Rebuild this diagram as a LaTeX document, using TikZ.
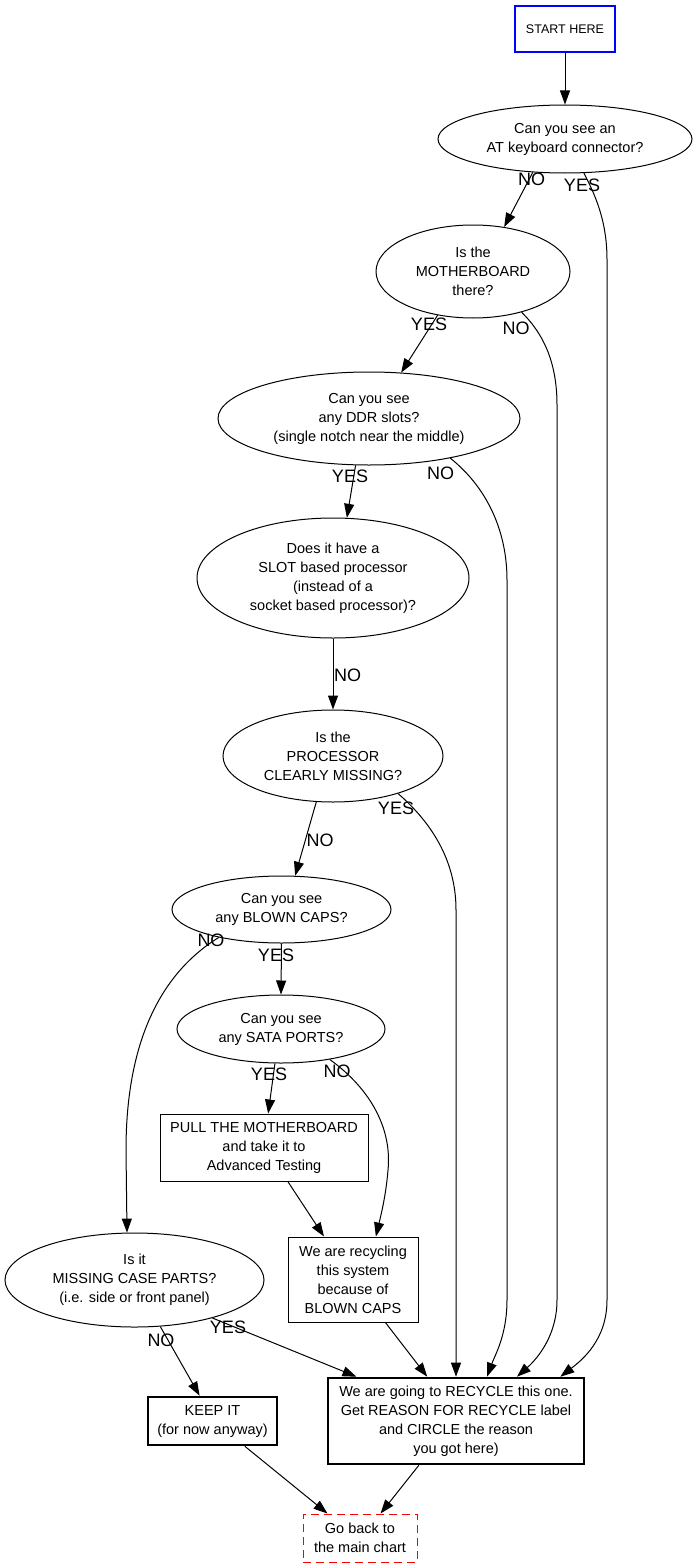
\documentclass[tikz,border=0pt]{standalone}
\usepackage{fontspec}
\setmainfont{Liberation Sans}
\usetikzlibrary{arrows.meta,shapes.geometric}
\begin{document}
\begin{tikzpicture}[x=1pt,y=-1pt,
  every node/.style={font=\fontsize{14.5}{19}\selectfont, align=center, inner sep=0pt},
  ell/.style={draw, ellipse, line width=1pt},
  box/.style={draw, rectangle, line width=1pt},
  thickbox/.style={draw, rectangle, line width=2.6pt},
  lab/.style={font=\fontsize{18}{18}\selectfont},
  arr/.style={-{Triangle[length=14pt,width=10pt]}, line width=1pt},
]
\useasboundingbox (0,0) rectangle (697,1568);

\node[box, draw=blue, line width=2.2pt, minimum width=100, minimum height=46, font=\fontsize{12.5}{15}\selectfont] (start) at (565,29) {START HERE};
\node[ell, minimum width=254, minimum height=68] (A) at (565,139) {Can you see an\\AT keyboard connector?};
\node[ell, minimum width=194, minimum height=93] (B) at (473,271.5) {Is the\\MOTHERBOARD\\there?};
\node[ell, minimum width=302, minimum height=93] (C) at (369,418.5) {Can you see\\any DDR slots?\\(single notch near the middle)};
\node[ell, minimum width=272, minimum height=120] (D) at (333,578) {Does it have a\\SLOT based processor\\(instead of a\\socket based processor)?};
\node[ell, minimum width=220, minimum height=92] (E) at (333,756) {Is the\\PROCESSOR\\CLEARLY MISSING?};
\node[ell, minimum width=219, minimum height=67] (F) at (281.5,909.5) {Can you see\\any BLOWN CAPS?};
\node[ell, minimum width=208, minimum height=68] (G) at (281,1029) {Can you see\\any SATA PORTS?};
\node[box, minimum width=208, minimum height=67] (H) at (264,1147.5) {PULL THE MOTHERBOARD\\and take it to\\Advanced Testing};
\node[box, minimum width=130, minimum height=85] (I) at (353,1279.5) {We are recycling\\this system\\because of\\BLOWN CAPS};
\node[ell, minimum width=259, minimum height=94] (J) at (134.5,1280) {Is it\\MISSING CASE PARTS?\\(i.e. side or front panel)};
\node[thickbox, minimum width=129, minimum height=48] (K) at (212.5,1421) {KEEP IT\\(for now anyway)};
\node[thickbox, minimum width=256, minimum height=86] (L) at (456,1421) {We are going to RECYCLE this one.\\Get REASON FOR RECYCLE label\\and CIRCLE the reason\\you got here)};
\node[box, draw=red, dash pattern=on 8pt off 5pt, minimum width=114, minimum height=48] (M) at (360,1538) {Go back to\\the main chart};

% edges
\draw[arr] (start.south) -- (A.north);
\draw[arr] (A.-134) -- (B.55);
\draw[arr] (A.-61) .. controls (598,200) and (607,225) .. (607,260) -- (607,1300) .. controls (607,1340) and (582,1360) .. (L.23);
\draw[arr] (B.-129) -- (C.55);
\draw[arr] (B.-40) .. controls (545,335) and (557,365) .. (557,405) -- (557,1300) .. controls (557,1335) and (538,1358) .. (L.36);
\draw[arr] (C.-106.8) -- (D.77);
\draw[arr] (C.-26) .. controls (490,490) and (507,535) .. (507,580) -- (507,1300) .. controls (507,1335) and (495,1355) .. (L.55);
\draw[arr] (D.south) -- (E.north);
\draw[arr] (E.-110) -- (F.68);
\draw[arr] (E.-30) .. controls (440,830) and (456,870) .. (456,910) -- (L.north);
\draw[arr] (F.south) -- (G.north);
\draw[arr] (F.-156) .. controls (150,980) and (126,1060) .. (126,1150) -- (J.99);
\draw[arr] (G.-100) -- (H.83);
\draw[arr] (G.-32) .. controls (372,1090) and (392,1130) .. (388,1170) .. controls (386,1195) and (381,1215) .. (I.62.6);
\draw[arr] (H.-55.5) -- (I.124.3);
\draw[arr] (I.-53.9) -- (L.123.1);
\draw[arr] (J.-61) -- (K.117.5);
\draw[arr] (J.-26.1) -- (L.156.7);
\draw[arr] (K.-38.2) -- (M.143.1);
\draw[arr] (L.-130) -- (M.50.2);

% labels
\node[lab] (l1) at (531.5,179) {NO};
\node[lab] (l2) at (582,185.5) {YES};
\node[lab] (l3) at (429,324) {YES};
\node[lab] (l4) at (516,328.5) {NO};
\node[lab] (l5) at (350,476) {YES};
\node[lab] (l6) at (440.5,473.5) {NO};
\node[lab] (l7) at (347.5,675) {NO};
\node[lab] (l8) at (396,808.5) {YES};
\node[lab] (l9) at (320,840) {NO};
\node[lab] (l10) at (211,940) {NO};
\node[lab] (l11) at (276,955) {YES};
\node[lab] (l12) at (269,1074.5) {YES};
\node[lab] (l13) at (337,1071.5) {NO};
\node[lab] (l14) at (161,1340) {NO};
\node[lab] (l15) at (228,1327) {YES};
\end{tikzpicture}
\end{document}
